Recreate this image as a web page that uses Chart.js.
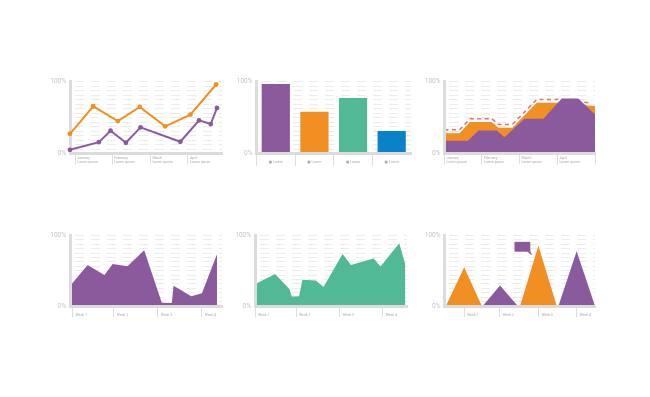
<!DOCTYPE html>
<html>
<head>
<meta charset="utf-8">
<title>Dashboard charts</title>
<script src="https://cdn.jsdelivr.net/npm/chart.js@4.4.1/dist/chart.umd.min.js"></script>
<style>
  html, body { margin: 0; padding: 0; background: #fff; }
  body { width: 650px; height: 397px; position: relative; overflow: hidden; }
  canvas { position: absolute; }
</style>
</head>
<body>
<canvas id="lines" width="190" height="105" style="left:40px;top:70px"></canvas>
<canvas id="bars" width="190" height="105" style="left:225px;top:70px"></canvas>
<canvas id="layers" width="190" height="105" style="left:415px;top:70px"></canvas>
<canvas id="weekly-purple" width="190" height="100" style="left:40px;top:225px"></canvas>
<canvas id="weekly-green" width="190" height="100" style="left:225px;top:225px"></canvas>
<canvas id="peaks" width="190" height="100" style="left:415px;top:225px"></canvas>
<script>
// ---- data (x runs 0..100 along each plot, y is percent) ----
const yTickLabels = ['0%', '100%'];
const monthLabels = ['January', 'February', 'March', 'April'];
const monthNote = 'Lorem ipsum';
const weekLabels = ['Week 1', 'Week 2', 'Week 3', 'Week 4'];

// top left: two lines
const orangeLineX = [0, 15.3, 31.5, 45.9, 62.6, 79.2, 96.1];
const orangeLineY = [27.4, 65.6, 45.1, 64.7, 37.7, 54, 95.8];
const purpleLineX = [0, 19, 26.7, 36.8, 46.4, 72.6, 84.9, 92.6, 96.7];
const purpleLineY = [5.1, 15.8, 31.6, 14.9, 36.3, 16.3, 46, 40.9, 63.3];
const monthStartsA = [3.5, 27.8, 52.9, 77.6];

// top middle: bars
const barLabels = ['■ Lorem', '■ Lorem', '■ Lorem', '■ Lorem'];
const barValues = [96.7, 58.1, 77.2, 31.2];

// top right: two areas and a dashed target line
const purpleLayerX = [0, 15.5, 22.6, 34.7, 39.8, 53.1, 65.7, 77.9, 88.9, 100];
const purpleLayerY = [17.8, 17.8, 31.9, 31.9, 22.5, 48.4, 48.4, 76.5, 76.5, 54];
const orangeLayerX = [0, 10, 17, 31.4, 35.8, 45.1, 61.3, 75.7, 88.9, 96.7, 100];
const orangeLayerY = [28.2, 28.2, 43.7, 43.7, 35.7, 35.7, 70.4, 70.4, 68.5, 66.2, 66.2];
const targetX = [0, 10, 17, 31.4, 35.8, 45.1, 61.3, 75.7, 95.6];
const targetY = [32.9, 32.9, 48.4, 48.4, 40.4, 40.4, 75.1, 75.1, 70.4];
const monthStartsB = [0, 24.8, 49.8, 75, 100];

// bottom left: purple area
const purpleAreaX = [0, 11.6, 22.6, 28.1, 37.8, 48.8, 60.4, 67, 68.1, 79.8, 86.8, 96.7];
const purpleAreaY = [28.4, 58.3, 44.1, 59.7, 56.4, 79.1, 4.7, 4.3, 28.9, 13.7, 18, 73.5];
const weekStartsA = [1.8, 28.8, 57.8, 86.6];

// bottom middle: green area
const greenAreaX = [0, 13.2, 22.6, 24.2, 29, 31.2, 40, 45.1, 57.6, 63.1, 78, 82.6, 94.9, 98.9];
const greenAreaY = [30.8, 45.5, 24.2, 13.3, 13.7, 37.4, 36, 27, 73.9, 58.3, 67.3, 55.9, 89.1, 59.2];
const weekStartsB = [0, 27, 55.6, 84];

// bottom right: peaks
const orangePeakX = [0.9, 13.1, 24.8, 50.2, 62.4, 74.6];
const orangePeakY = [0, 54.9, 0, 0, 85.4, 0];
const purplePeakX = [25.4, 36.9, 48.7, 75.7, 87.8, 100];
const purplePeakY = [0, 29.1, 0, 0, 77.5, 0];
const weekStartsC = [13.1, 36.5, 62.4, 87.8];
const calloutBox = { x0: 46.5, x1: 57, y0: 77, y1: 91 };
const calloutTip = { x: 58.4, y: 71.4, from: 54.8 };

// ---- styling ----
const PURPLE = '#8a5a9c';
const ORANGE = '#f28f22';
const GREEN = '#52b996';
const BLUE = '#0a82c8';
const RED = '#e66e6a';
const FONT = 'Roboto, "DejaVu Sans", sans-serif';
const NONE = 'rgba(0,0,0,0)';

const gridSteps = Array.from({ length: 17 }, (_, i) => i * 6.25);
const zip = (xs, ys) => xs.map((x, i) => ({ x: x, y: ys[i] }));

function xScale(p) {
    const s = {
        type: p.type || 'linear',
        afterFit: sc => { sc.height = p.height; },
        grid: { drawOnChartArea: false, color: '#dedede', tickColor: p.tickColor || '#dedede', tickLength: p.tickLength, tickWidth: 1 },
        border: { display: true, color: '#dcdcdc', width: 3, z: 1 },
        ticks: {
            autoSkip: false, maxRotation: 0, minRotation: 0,
            align: p.align || 'start', labelOffset: p.labelOffset || 0, padding: p.pad,
            color: '#ababab', font: { family: FONT, size: 3.5 }
        }
    };
    if (s.type === 'linear') {
        s.min = 0;
        s.max = 100;
        s.afterBuildTicks = sc => { sc.ticks = p.at.map(v => ({ value: v })); };
        s.ticks.callback = (v, i) => p.labels[i] || '';
    } else {
        s.offset = true;
        s.grid.offset = true;
    }
    return s;
}

function yScale(width, borderZ) {
    return {
        min: 0,
        max: 100,
        afterBuildTicks: sc => { sc.ticks = gridSteps.map(v => ({ value: v })); },
        afterFit: sc => { sc.width = width; },
        grid: { color: '#ececec', lineWidth: 1, drawTicks: false },
        border: { display: true, color: '#dcdcdc', width: 3, dash: [9, 7], dashOffset: 13, z: borderZ },
        ticks: {
            autoSkip: false, padding: 4, color: '#c4c4c4',
            font: { family: FONT, size: 6.5 },
            callback: v => v === 0 ? yTickLabels[0] : (v === 100 ? yTickLabels[1] : '')
        }
    };
}

// area = chart area inside the canvas: [left, top, right, bottom]
function panelOptions(canvas, area, x, yBorderZ) {
    const [left, top, right, bottom] = area;
    x.height = canvas.height - bottom;
    return {
        responsive: false,
        animation: false,
        events: [],
        layout: { padding: { left: 0, top: top, right: canvas.width - right, bottom: 0 } },
        plugins: { legend: { display: false }, tooltip: { enabled: false } },
        scales: { x: xScale(x), y: yScale(left, yBorderZ) }
    };
}

function area(points, color, order) {
    return {
        data: points, fill: 'origin', backgroundColor: color, borderColor: NONE,
        borderWidth: 0, pointRadius: 0, order: order || 0
    };
}

// top left
const linesCanvas = document.getElementById('lines');
new Chart(linesCanvas, {
    type: 'line',
    data: {
        datasets: [
            { data: zip(orangeLineX, orangeLineY), borderColor: ORANGE, backgroundColor: ORANGE, borderWidth: 2, pointRadius: 2.4, pointBorderWidth: 0, clip: false },
            { data: zip(purpleLineX, purpleLineY), borderColor: PURPLE, backgroundColor: PURPLE, borderWidth: 2, pointRadius: 2.4, pointBorderWidth: 0, clip: false }
        ]
    },
    options: panelOptions(linesCanvas, [30, 11.5, 182, 83.5],
        { at: monthStartsA, labels: monthLabels.map(m => [m, monthNote]), tickLength: 11, pad: -8.3, labelOffset: 2 }, 0)
});

// top middle
const barsCanvas = document.getElementById('bars');
new Chart(barsCanvas, {
    type: 'bar',
    data: {
        labels: barLabels,
        datasets: [{
            data: barValues,
            backgroundColor: [PURPLE, ORANGE, GREEN, BLUE],
            borderWidth: 0, barPercentage: 0.73, categoryPercentage: 1
        }]
    },
    options: panelOptions(barsCanvas, [31.5, 11.5, 186, 83.5],
        { type: 'category', align: 'center', tickLength: 12.5, pad: -5.9,
          tickColor: c => c.type === 'tick' ? '#dedede' : NONE }, 1)
});

// top right
const layersCanvas = document.getElementById('layers');
new Chart(layersCanvas, {
    type: 'line',
    data: {
        datasets: [
            area(zip(purpleLayerX, purpleLayerY), PURPLE, 1),
            { data: zip(targetX, targetY), borderColor: RED, borderWidth: 1.5, borderDash: [4, 3.5], pointRadius: 0, fill: false, order: 2 },
            area(zip(orangeLayerX, orangeLayerY), ORANGE, 3)
        ]
    },
    options: panelOptions(layersCanvas, [29.5, 11.5, 180, 83.5],
        { at: monthStartsB, labels: monthLabels.map(m => [m, monthNote]), tickLength: 11, pad: -8.3, labelOffset: 2 }, 1)
});

// bottom left
const purpleCanvas = document.getElementById('weekly-purple');
new Chart(purpleCanvas, {
    type: 'line',
    data: { datasets: [area(zip(purpleAreaX, purpleAreaY), PURPLE)] },
    options: panelOptions(purpleCanvas, [30, 10.5, 182, 81],
        { at: weekStartsA, labels: weekLabels, tickLength: 11, pad: -4.1, labelOffset: 3 }, 1)
});

// bottom middle
const greenCanvas = document.getElementById('weekly-green');
new Chart(greenCanvas, {
    type: 'line',
    data: { datasets: [area(zip(greenAreaX, greenAreaY), GREEN)] },
    options: panelOptions(greenCanvas, [30, 10.5, 182, 81],
        { at: weekStartsB, labels: weekLabels, tickLength: 11, pad: -4.1, labelOffset: 3 }, 1)
});

// bottom right, with a speech bubble placed in data units
const calloutPlugin = {
    id: 'callout',
    afterDatasetsDraw(chart) {
        const { ctx, scales: { x, y } } = chart;
        const l = x.getPixelForValue(calloutBox.x0);
        const r = x.getPixelForValue(calloutBox.x1);
        const t = y.getPixelForValue(calloutBox.y1);
        const b = y.getPixelForValue(calloutBox.y0);
        ctx.save();
        ctx.fillStyle = PURPLE;
        ctx.fillRect(l, t, r - l, b - t);
        ctx.beginPath();
        ctx.moveTo(x.getPixelForValue(calloutTip.from), b - 0.5);
        ctx.lineTo(r, b - 0.5);
        ctx.lineTo(x.getPixelForValue(calloutTip.x), y.getPixelForValue(calloutTip.y));
        ctx.closePath();
        ctx.fill();
        ctx.restore();
    }
};

const peaksCanvas = document.getElementById('peaks');
new Chart(peaksCanvas, {
    type: 'line',
    data: {
        datasets: [
            area(zip(orangePeakX, orangePeakY), ORANGE),
            area(zip(purplePeakX, purplePeakY), PURPLE)
        ]
    },
    options: panelOptions(peaksCanvas, [29.5, 10.5, 180, 81],
        { at: weekStartsC, labels: weekLabels, tickLength: 11, pad: -4.1, labelOffset: 3 }, 1),
    plugins: [calloutPlugin]
});
</script>
</body>
</html>
